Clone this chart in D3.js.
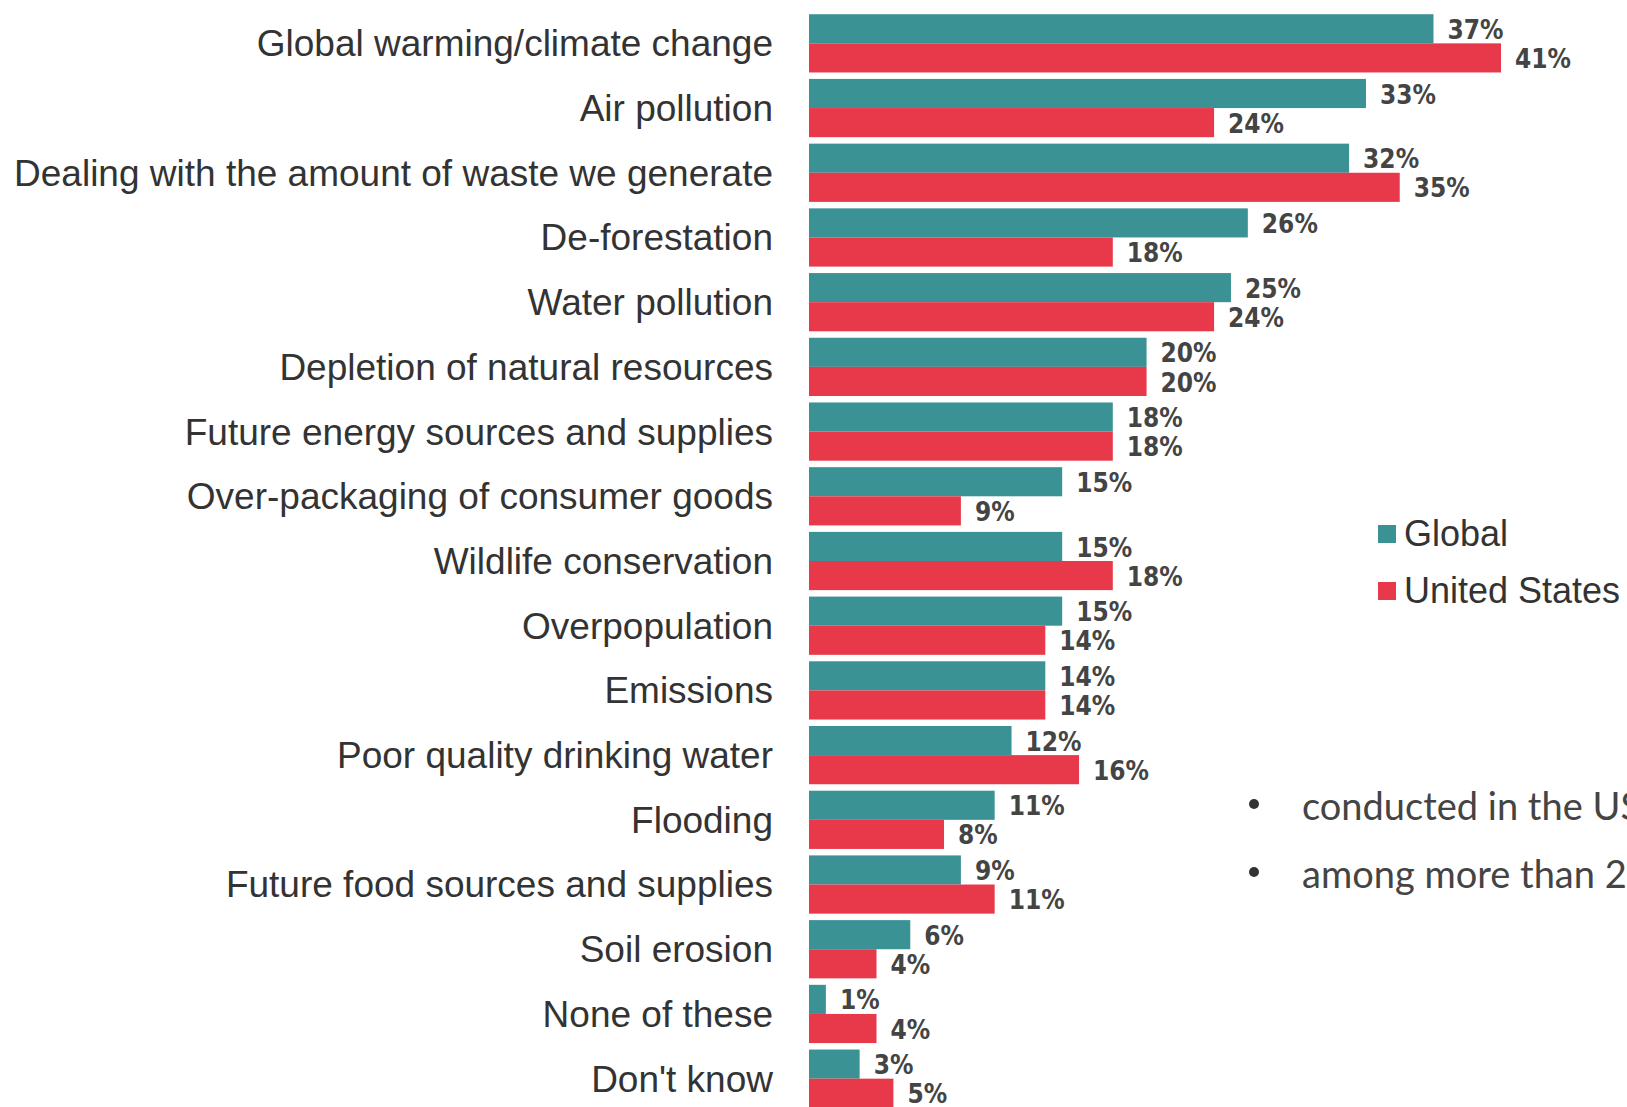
<!DOCTYPE html>
<html>
<head>
<meta charset="utf-8">
<script src="https://cdn.jsdelivr.net/npm/d3@7"></script>
<style>
  body { margin: 0; background: #fff; overflow: hidden; }
  svg { display: block; }
</style>
</head>
<body>
<div id="chart"></div>
<script>
const categories = [
  'Global warming/climate change',
  'Air pollution',
  'Dealing with the amount of waste we generate',
  'De-forestation',
  'Water pollution',
  'Depletion of natural resources',
  'Future energy sources and supplies',
  'Over-packaging of consumer goods',
  'Wildlife conservation',
  'Overpopulation',
  'Emissions',
  'Poor quality drinking water',
  'Flooding',
  'Future food sources and supplies',
  'Soil erosion',
  'None of these',
  "Don't know"
];
const globalVals = [37, 33, 32, 26, 25, 20, 18, 15, 15, 15, 14, 12, 11, 9, 6, 1, 3];
const usVals = [41, 24, 35, 18, 24, 20, 18, 9, 18, 14, 14, 16, 8, 11, 4, 4, 5];
const seriesNames = ['Global', 'United States'];
const notes = ['conducted in the US', 'among more than 2,000 adults'];

const width = 1627;
const height = 1107;
const colors = { 'Global': '#3b9295', 'United States': '#e8394b' };

const svg = d3.select('#chart')
  .append('svg')
  .attr('width', width)
  .attr('height', height);

const y = d3.scaleBand()
  .domain(categories)
  .range([11, 1111])
  .paddingInner(0.1)
  .paddingOuter(0.05);

const ySub = d3.scaleBand()
  .domain(seriesNames)
  .range([0, y.bandwidth()]);

const x = d3.scaleLinear()
  .domain([0, 41])
  .range([809, 1501]);

const rows = categories.map((c, i) => ({
  cat: c,
  vals: [
    { series: 'Global', v: globalVals[i] },
    { series: 'United States', v: usVals[i] }
  ]
}));

const groups = svg.selectAll('g.row')
  .data(rows)
  .enter()
  .append('g')
  .attr('class', 'row')
  .attr('transform', d => `translate(0,${y(d.cat)})`);

groups.selectAll('rect')
  .data(d => d.vals)
  .enter()
  .append('rect')
  .attr('x', x(0))
  .attr('y', d => ySub(d.series))
  .attr('width', d => x(d.v) - x(0))
  .attr('height', ySub.bandwidth())
  .attr('fill', d => colors[d.series]);

groups.selectAll('text.val')
  .data(d => d.vals)
  .enter()
  .append('text')
  .attr('class', 'val')
  .attr('x', d => x(d.v) + 14)
  .attr('y', d => ySub(d.series) + ySub.bandwidth() / 2 + 1)
  .attr('dy', '0.35em')
  .style('font-family', "'Liberation Sans Narrow', 'DejaVu Sans Condensed', Arial, sans-serif")
  .style('font-weight', 'bold')
  .style('font-size', '26px')
  .style('fill', '#444')
  .text(d => d.v + '%');

// category labels
svg.append('g')
  .selectAll('text')
  .data(categories)
  .enter()
  .append('text')
  .attr('x', 773)
  .attr('y', d => y(d) + y.bandwidth() / 2)
  .attr('dy', '0.35em')
  .attr('text-anchor', 'end')
  .style('font-family', "'Liberation Sans', Arial, sans-serif")
  .style('font-size', '37px')
  .style('fill', '#333')
  .text(d => d);

// legend
const legend = svg.append('g')
  .attr('transform', 'translate(1378, 533)');

const legendItems = legend.selectAll('g')
  .data(seriesNames)
  .enter()
  .append('g')
  .attr('transform', (d, i) => `translate(0, ${i * 57})`);

legendItems.append('rect')
  .attr('x', 0)
  .attr('y', -8)
  .attr('width', 18)
  .attr('height', 18)
  .attr('fill', d => colors[d]);

legendItems.append('text')
  .attr('x', 26)
  .attr('y', 0)
  .attr('dy', '0.35em')
  .style('font-family', "'Liberation Sans', Arial, sans-serif")
  .style('font-size', '36px')
  .style('fill', '#333')
  .text(d => d);

// notes on the right (cut at the page edge, as in the source)
const noteG = svg.append('g')
  .selectAll('g')
  .data(notes)
  .enter()
  .append('g')
  .attr('transform', (d, i) => `translate(0, ${807 + i * 68})`);

noteG.append('circle')
  .attr('cx', 1254)
  .attr('cy', -3)
  .attr('r', 5)
  .attr('fill', '#333');

noteG.append('text')
  .attr('x', 1302)
  .attr('y', 0)
  .attr('dy', '0.35em')
  .style('font-family', "Lato, 'Open Sans', sans-serif")
  .style('font-size', '38px')
  .style('fill', '#444')
  .text(d => d);
</script>
</body>
</html>
